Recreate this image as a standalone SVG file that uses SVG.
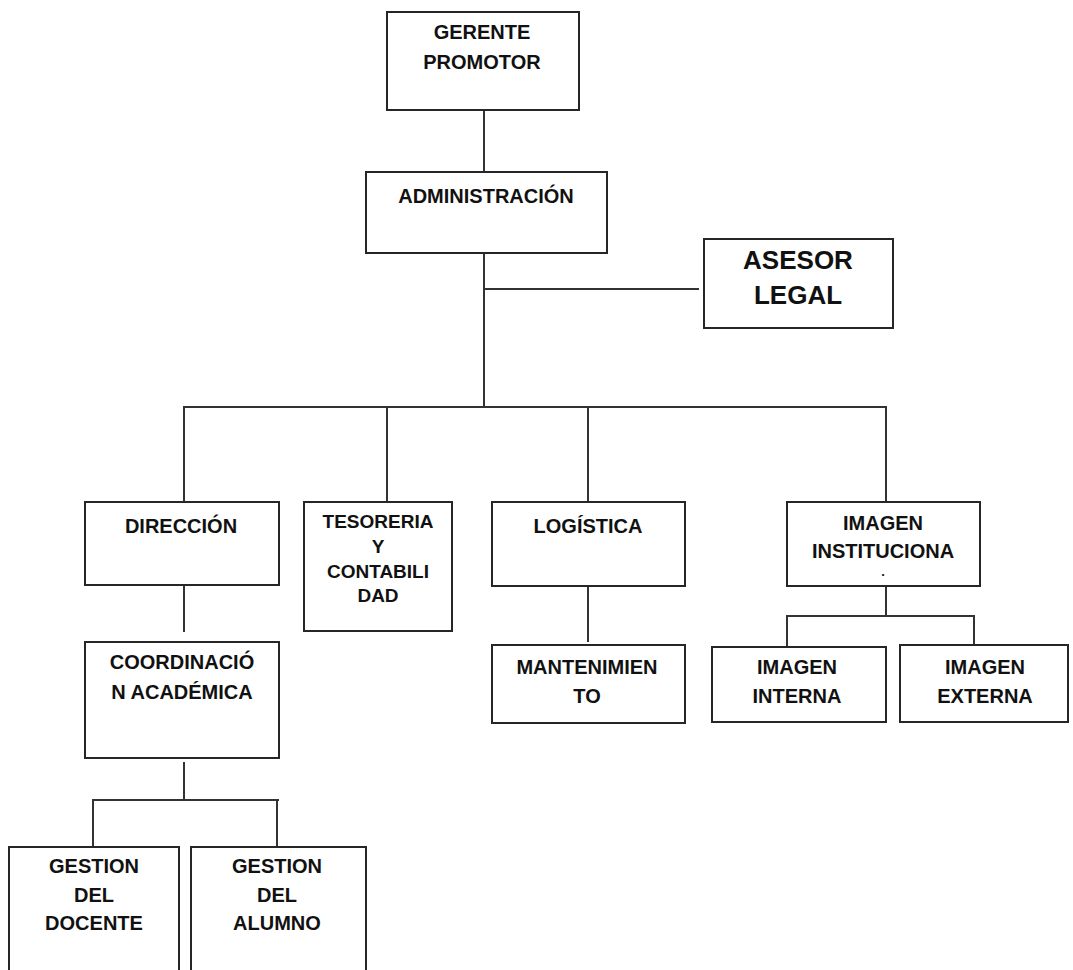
<svg xmlns="http://www.w3.org/2000/svg" width="1073" height="970" viewBox="0 0 1073 970">
<style>
.box{fill:#fff;stroke:#262626;stroke-width:2}
.ln{stroke:#333;stroke-width:2;fill:none}
text{font-family:"Liberation Sans",Arial,sans-serif;font-weight:bold;font-size:20px;fill:#111;text-anchor:middle}
.sm{font-size:19px}
.lg{font-size:26px}
.dot{font-size:13px}
</style>
<rect width="1073" height="970" fill="#fff"/>
<g id="connectors">
<path class="ln" d="M484 110V172"/>
<path class="ln" d="M484 253V407"/>
<path class="ln" d="M484 289H699"/>
<path class="ln" d="M184 502V407H886V502"/>
<path class="ln" d="M387 407V502"/>
<path class="ln" d="M588 407V502"/>
<path class="ln" d="M184 585V632"/>
<path class="ln" d="M588 586V642"/>
<path class="ln" d="M886 586V616"/>
<path class="ln" d="M787 647V616H974V645"/>
<path class="ln" d="M184 762V800"/>
<path class="ln" d="M93 847V800H279"/>
<path class="ln" d="M277 800V847"/>
</g>
<g id="gerente">
<rect class="box" x="387" y="12" width="192" height="98"/>
<text x="482" y="39">GERENTE</text>
<text x="482" y="69">PROMOTOR</text>
</g>
<g id="administracion">
<rect class="box" x="366" y="172" width="241" height="81"/>
<text x="486" y="203">ADMINISTRACIÓN</text>
</g>
<g id="asesor">
<rect class="box" x="704" y="239" width="189" height="89"/>
<text class="lg" x="798" y="269">ASESOR</text>
<text class="lg" x="798" y="304">LEGAL</text>
</g>
<g id="direccion">
<rect class="box" x="85" y="502" width="194" height="83"/>
<text x="181" y="533">DIRECCIÓN</text>
</g>
<g id="tesoreria">
<rect class="box" x="304" y="502" width="148" height="129"/>
<text class="sm" x="378" y="528">TESORERIA</text>
<text class="sm" x="378" y="553">Y</text>
<text class="sm" x="378" y="578">CONTABILI</text>
<text class="sm" x="378" y="602">DAD</text>
</g>
<g id="logistica">
<rect class="box" x="492" y="502" width="193" height="84"/>
<text x="588" y="533">LOGÍSTICA</text>
</g>
<g id="imagen-institucional">
<rect class="box" x="787" y="502" width="193" height="84"/>
<text x="883" y="530">IMAGEN</text>
<text x="883" y="558">INSTITUCIONA</text>
<text class="dot" x="883" y="576">.</text>
</g>
<g id="coordinacion">
<rect class="box" x="85" y="642" width="194" height="116"/>
<text x="182" y="669">COORDINACIÓ</text>
<text x="182" y="699">N ACADÉMICA</text>
</g>
<g id="mantenimiento">
<rect class="box" x="492" y="645" width="193" height="78"/>
<text x="587" y="674">MANTENIMIEN</text>
<text x="587" y="703">TO</text>
</g>
<g id="imagen-interna">
<rect class="box" x="712" y="647" width="174" height="75"/>
<text x="797" y="674">IMAGEN</text>
<text x="797" y="703">INTERNA</text>
</g>
<g id="imagen-externa">
<rect class="box" x="900" y="645" width="168" height="77"/>
<text x="985" y="674">IMAGEN</text>
<text x="985" y="703">EXTERNA</text>
</g>
<g id="gestion-docente">
<rect class="box" x="9" y="847" width="170" height="140"/>
<text x="94" y="873">GESTION</text>
<text x="94" y="902">DEL</text>
<text x="94" y="930">DOCENTE</text>
</g>
<g id="gestion-alumno">
<rect class="box" x="191" y="847" width="175" height="140"/>
<text x="277" y="873">GESTION</text>
<text x="277" y="902">DEL</text>
<text x="277" y="930">ALUMNO</text>
</g>
</svg>
